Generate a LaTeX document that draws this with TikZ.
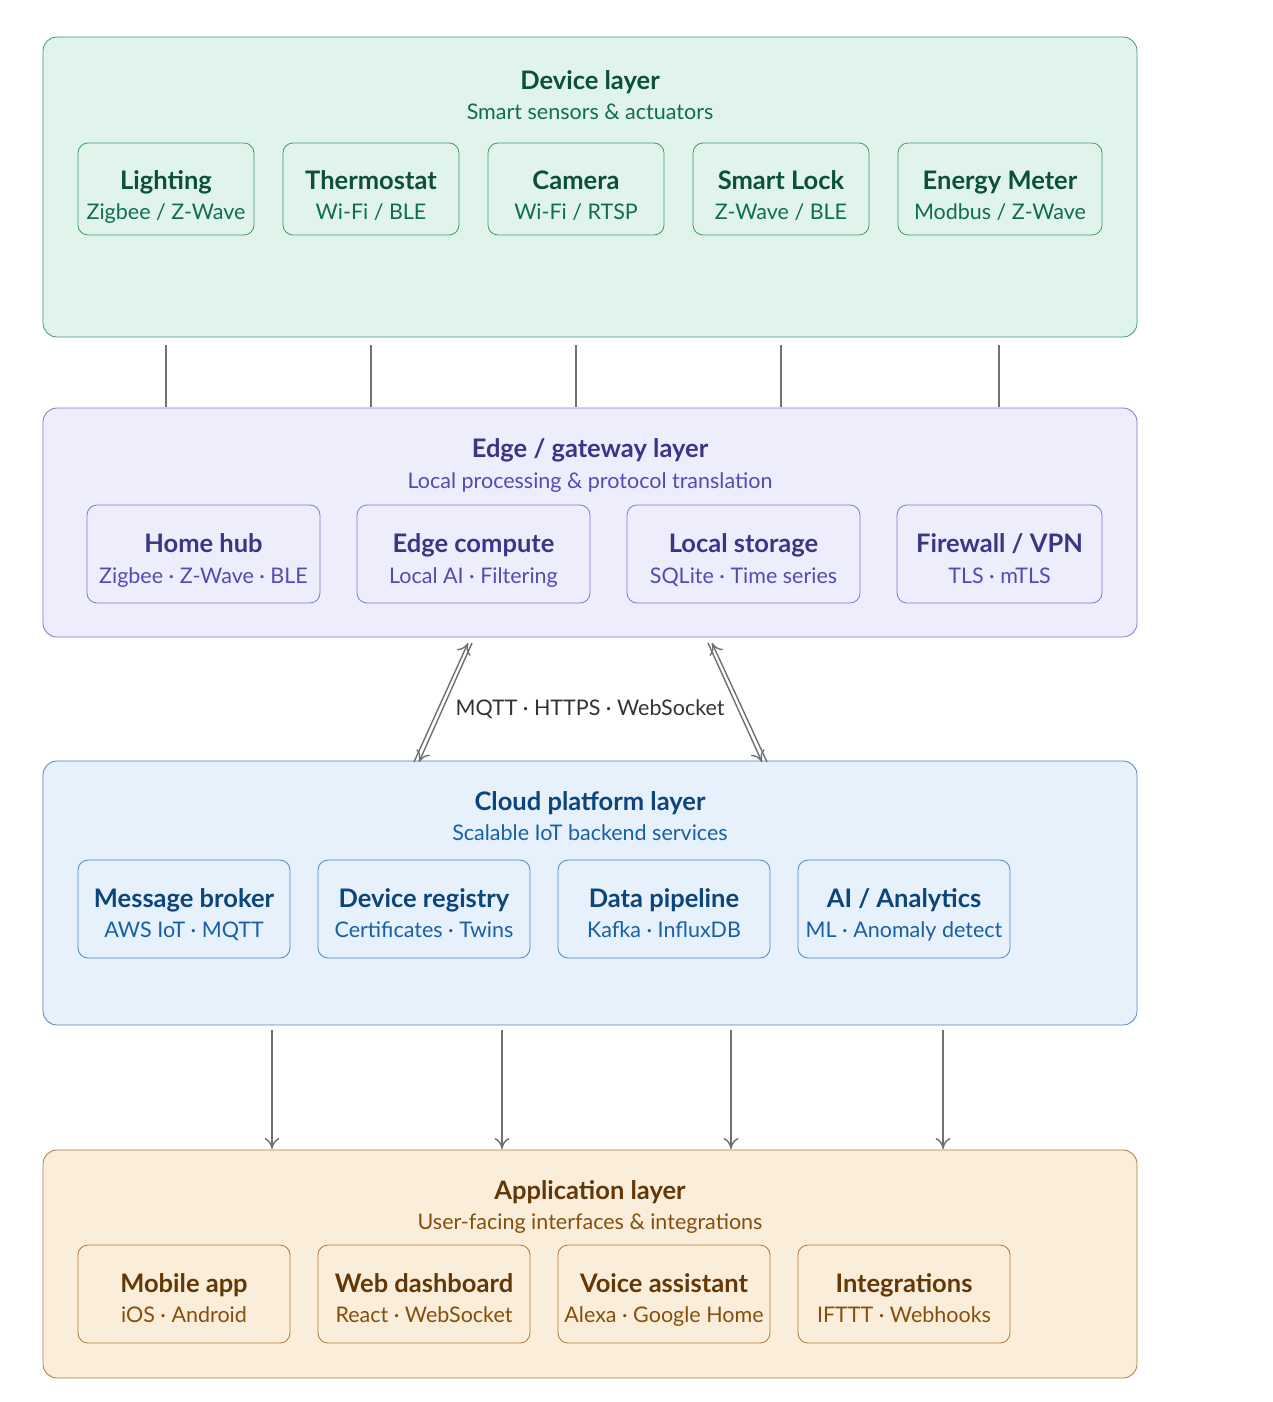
\documentclass[tikz,border=0pt]{standalone}
\usepackage{fontspec}
\setmainfont{Lato}
\usepackage{tikz}
\usetikzlibrary{arrows.meta}
\definecolor{devfill}{HTML}{E1F4EC}\definecolor{devdraw}{HTML}{3E9A75}
\definecolor{devtext}{HTML}{0B5138}\definecolor{devsub}{HTML}{0F6E4C}
\definecolor{edgfill}{HTML}{EEEDFB}\definecolor{edgdraw}{HTML}{8078D2}
\definecolor{edgtext}{HTML}{3C3489}\definecolor{edgsub}{HTML}{534AB7}
\definecolor{cldfill}{HTML}{E6F1FB}\definecolor{clddraw}{HTML}{4A86C8}
\definecolor{cldtext}{HTML}{0C447C}\definecolor{cldsub}{HTML}{185FA5}
\definecolor{appfill}{HTML}{FAEEDA}\definecolor{appdraw}{HTML}{B07A3A}
\definecolor{apptext}{HTML}{633806}\definecolor{appsub}{HTML}{854F0B}
\definecolor{wire}{HTML}{707070}
\begin{document}
\begin{tikzpicture}[x=1pt,y=-1pt]
		\tikzset{layer/.style={draw, rounded corners=14pt, line width=0.8pt}}
		\tikzset{box/.style={draw, rounded corners=10pt, line width=0.8pt}}
		\tikzset{ttl/.style={anchor=base, yshift=-8pt, font=\fontsize{25.5}{27}\selectfont\bfseries}}
		\tikzset{sub/.style={anchor=base, yshift=-7pt, font=\fontsize{21.5}{23}\selectfont}}
		\tikzset{wire/.style={draw=wire, line width=1.4pt}}
		\tikzset{arw/.style={wire, -{To[length=11pt,width=15pt]}}}
		\useasboundingbox (0,0) rectangle (1272,1402);
		%layers
		\path[layer, fill=devfill, draw=devdraw] (43,37) rectangle (1137,337);
		\path[layer, fill=edgfill, draw=edgdraw] (43,408) rectangle (1137,637);
		\path[layer, fill=cldfill, draw=clddraw] (43,761) rectangle (1137,1025);
		\path[layer, fill=appfill, draw=appdraw] (43,1150) rectangle (1137,1378);
		\node[ttl, text=devtext] (dev) at (590,82) {Device layer};
		\node[sub, text=devsub] (devs) at (590,113) {Smart sensors \& actuators};
		\node[ttl, text=edgtext] (edg) at (590,449) {Edge / gateway layer};
		\node[sub, text=edgsub] (edgs) at (590,481) {Local processing \& protocol translation};
		\node[ttl, text=cldtext] (cld) at (590,802) {Cloud platform layer};
		\node[sub, text=cldsub] (clds) at (590,833) {Scalable IoT backend services};
		\node[ttl, text=apptext] (app) at (590,1191) {Application layer};
		\node[sub, text=appsub] (apps) at (590,1222) {User-facing interfaces \& integrations};
		%device boxes
		\foreach \n/\xa/\xb/\t/\s in {d1/78/254/Lighting/{Zigbee / Z-Wave}, d2/283/459/Thermostat/{Wi-Fi / BLE},
				d3/488/664/Camera/{Wi-Fi / RTSP}, d4/693/869/Smart Lock/{Z-Wave / BLE}, d5/898/1102/Energy Meter/{Modbus / Z-Wave}}{
			\path[box, fill=devfill, draw=devdraw] (\xa,143) rectangle (\xb,235);
			\node[ttl, text=devtext] (\n) at ({(\xa+\xb)/2},181) {\t};
			\node[sub, text=devsub] (\n s) at ({(\xa+\xb)/2},212) {\s};
		}
		%edge boxes
		\foreach \n/\xa/\xb/\t/\s in {e1/87/320/Home hub/Zigbee · Z-Wave · BLE, e2/357/590/Edge compute/Local AI · Filtering,
				e3/627/860/Local storage/SQLite · Time series, e4/897/1102/{Firewall / VPN}/TLS · mTLS}{
			\path[box, fill=edgfill, draw=edgdraw] (\xa,505) rectangle (\xb,603);
			\node[ttl, text=edgtext] (\n) at ({(\xa+\xb)/2},544) {\t};
			\node[sub, text=edgsub] (\n s) at ({(\xa+\xb)/2},576) {\s};
		}
		%cloud boxes
		\foreach \n/\xa/\t/\s in {c1/78/Message broker/AWS IoT · MQTT, c2/318/Device registry/Certificates · Twins,
				c3/558/Data pipeline/Kafka · InfluxDB, c4/798/{AI / Analytics}/ML · Anomaly detect}{
			\path[box, fill=cldfill, draw=clddraw] (\xa,860) rectangle (\xa+212,958);
			\node[ttl, text=cldtext] (\n) at (\xa+106,899) {\t};
			\node[sub, text=cldsub] (\n s) at (\xa+106,930) {\s};
		}
		%application boxes
		\foreach \n/\xa/\t/\s in {a1/78/Mobile app/iOS · Android, a2/318/Web dashboard/React · WebSocket,
				a3/558/Voice assistant/Alexa · Google Home, a4/798/Integrations/IFTTT · Webhooks}{
			\path[box, fill=appfill, draw=appdraw] (\xa,1245) rectangle (\xa+212,1343);
			\node[ttl, text=apptext] (\n) at (\xa+106,1284) {\t};
			\node[sub, text=appsub] (\n s) at (\xa+106,1315) {\s};
		}
		%connectors
		\foreach \x in {166,371,576,781,999}
			\draw[wire] (\x,345) -- (\x,407);
		\node[sub, text=black!80] (proto) at (590,708) {MQTT · HTTPS · WebSocket};
		\draw[arw] (414,762) -- (468,643);
		\draw[arw] (472,643) -- (419,762);
		\draw[arw] (767,762) -- (712,643);
		\draw[arw] (708,643) -- (762,762);
		\foreach \x in {272,502,731,943}
			\draw[arw] (\x,1030) -- (\x,1149);
\end{tikzpicture}
\end{document}
